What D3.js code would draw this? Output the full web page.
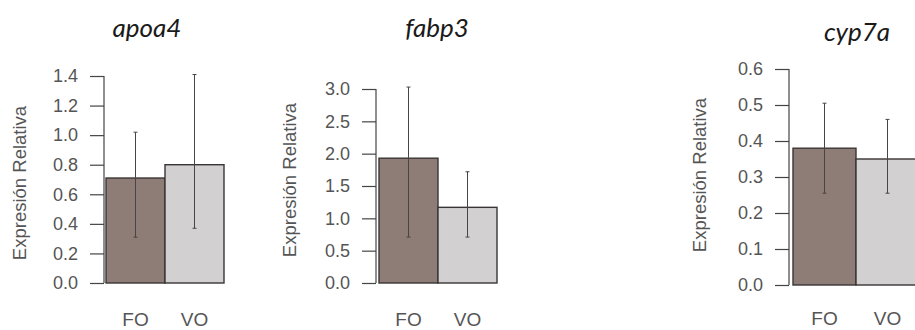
<!DOCTYPE html>
<html><head><meta charset="utf-8">
<script src="https://cdn.jsdelivr.net/npm/d3@7"></script>
<style>
html,body{margin:0;padding:0;background:#fff;}
svg{display:block;}
</style></head>
<body>
<svg id="chart" width="915" height="330"></svg>
<script>
// ---- data ----
const genes = ["apoa4", "fabp3", "cyp7a"];
const groups = ["FO", "VO"];
const means = [[0.71, 0.80], [1.93, 1.17], [0.38, 0.35]];
const errUpper = [[1.02, 1.41], [3.03, 1.72], [0.505, 0.46]];
const errLower = [[0.31, 0.37], [0.71, 0.71], [0.255, 0.255]];
const yTicks = [
  [0.0, 0.2, 0.4, 0.6, 0.8, 1.0, 1.2, 1.4],
  [0.0, 0.5, 1.0, 1.5, 2.0, 2.5, 3.0],
  [0.0, 0.1, 0.2, 0.3, 0.4, 0.5, 0.6]
];
const yLabel = "Expresión Relativa";

// ---- layout (pixel geometry, not data) ----
const panels = [
  {axisX:104, y0:283, yTop:76, barL:106, barR:224, ylabX:20, ylabY:183, titleX:147, titleY:37, xlabY:326},
  {axisX:376, y0:283, yTop:89, barL:379, barR:497, ylabX:290, ylabY:180, titleX:437, titleY:37, xlabY:326},
  {axisX:789, y0:285, yTop:69, barL:793, barR:919, ylabX:700, ylabY:175, titleX:857, titleY:41, xlabY:325}
];
const colors = {FO:"#8e7d76", VO:"#d3d0d1"};
const fmt = d3.format(".1f");

const svg = d3.select("#chart");

genes.forEach((g, i) => {
  const P = panels[i];
  const ticks = yTicks[i];
  const y = d3.scaleLinear().domain([0, ticks[ticks.length-1]]).range([P.y0, P.yTop]);
  const x = d3.scaleBand().domain(groups).range([P.barL, P.barR]).padding(0);
  const gp = svg.append("g");

  // bars
  gp.selectAll("rect.bar").data(groups).join("rect")
    .attr("x", d => x(d)).attr("width", x.bandwidth())
    .attr("y", (d, j) => y(means[i][j]))
    .attr("height", (d, j) => y(0) - y(means[i][j]))
    .attr("fill", d => colors[d])
    .attr("stroke", "#3a3535").attr("stroke-width", 1.4);

  // error bars
  const eb = gp.selectAll("g.err").data(groups).join("g");
  eb.append("line")
    .attr("x1", d => x(d) + x.bandwidth()/2).attr("x2", d => x(d) + x.bandwidth()/2)
    .attr("y1", (d, j) => y(errUpper[i][j])).attr("y2", (d, j) => y(errLower[i][j]))
    .attr("stroke", "#4a4545").attr("stroke-width", 1);
  ["u","l"].forEach(k => {
    eb.append("line")
      .attr("x1", d => x(d) + x.bandwidth()/2 - 2).attr("x2", d => x(d) + x.bandwidth()/2 + 2)
      .attr("y1", (d, j) => y(k==="u" ? errUpper[i][j] : errLower[i][j]))
      .attr("y2", (d, j) => y(k==="u" ? errUpper[i][j] : errLower[i][j]))
      .attr("stroke", "#4a4545").attr("stroke-width", 1);
  });

  // y axis
  const axis = d3.axisLeft(y).tickValues(ticks).tickFormat(fmt).tickSize(14).tickPadding(12);
  const ag = gp.append("g").attr("transform", `translate(${P.axisX},0)`).call(axis);
  ag.select(".domain").attr("stroke", "#444").attr("stroke-width", 1.2).attr("d", `M0,${y(ticks[0])}V${y(ticks[ticks.length-1])}`);
  ag.selectAll(".tick line").attr("stroke", "#444").attr("stroke-width", 1.2);
  ag.selectAll(".tick text").attr("fill", "#555").style("font-family", "'Liberation Sans', Arial, sans-serif").style("font-size", "18px");

  // x labels
  gp.selectAll("text.xl").data(groups).join("text")
    .attr("x", d => x(d) + x.bandwidth()/2).attr("y", P.xlabY)
    .attr("text-anchor", "middle").attr("fill", "#555")
    .style("font-family", "'Liberation Sans', Arial, sans-serif").style("font-size", "19px")
    .text(d => d);

  // y label
  gp.append("text")
    .attr("transform", `translate(${P.ylabX + 6},${P.ylabY}) rotate(-90)`)
    .attr("text-anchor", "middle").attr("fill", "#555")
    .style("font-family", "'Liberation Sans', Arial, sans-serif").style("font-size", "18.5px")
    .text(yLabel);

  // title
  gp.append("text")
    .attr("x", P.titleX).attr("y", P.titleY)
    .attr("text-anchor", "middle")
    .attr("fill", "#1a1a1a")
    .style("font-family", "Lato, 'Open Sans', sans-serif").style("font-style", "italic").style("font-size", "26px")
    .text(g);
});
</script>
</body></html>
